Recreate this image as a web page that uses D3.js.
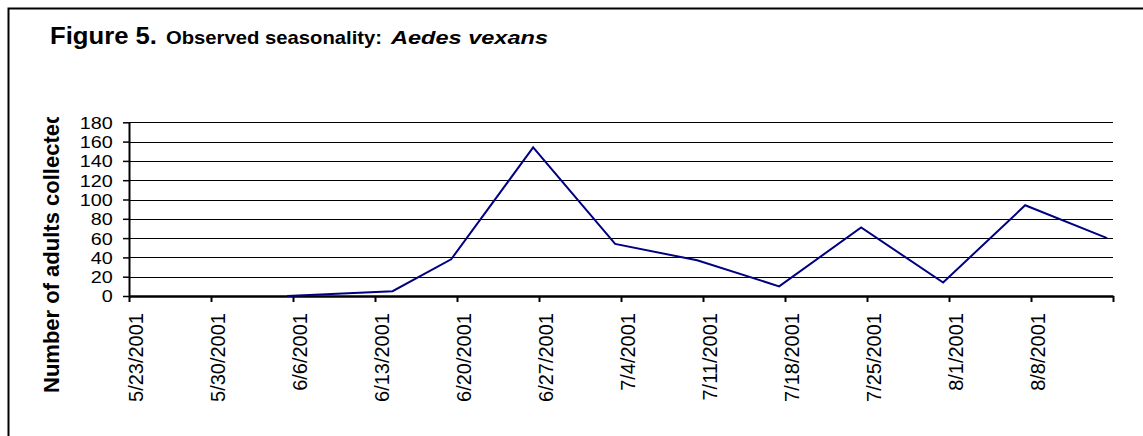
<!DOCTYPE html>
<html>
<head>
<meta charset="utf-8">
<script src="https://cdn.jsdelivr.net/npm/d3@7/dist/d3.min.js"></script>
<style>
  html, body { margin: 0; padding: 0; background: #fff; }
  svg { display: block; }
  text { font-family: "Liberation Sans", Arial, sans-serif; fill: #000; }
</style>
</head>
<body>
<div id="chart"></div>
<script>
'use strict';

// weekly axis marks (last tick has no label)
const tickLabels = ['5/23/2001', '5/30/2001', '6/6/2001', '6/13/2001', '6/20/2001', '6/27/2001',
  '7/4/2001', '7/11/2001', '7/18/2001', '7/25/2001', '8/1/2001', '8/8/2001', '8/15/2001'];
const sampleDates = ['6/6/2001', '6/15/2001', '6/20/2001', '6/27/2001', '7/4/2001', '7/11/2001',
  '7/18/2001', '7/25/2001', '8/1/2001', '8/8/2001', '8/15/2001'];
const adultCounts = [0, 5, 38, 154, 54, 37, 10, 71, 14, 94, 60];
const yTicks = [0, 20, 40, 60, 80, 100, 120, 140, 160, 180];

const width = 1143;
const height = 436;
const parse = d3.timeParse('%m/%d/%Y');
const fmt = d3.timeFormat('%-m/%-d/%Y');

const svg = d3.select('#chart').append('svg')
  .attr('width', width)
  .attr('height', height);

svg.append('rect')
  .attr('width', width)
  .attr('height', height)
  .attr('fill', '#fff');

// outer frame, runs off the right and bottom edge
svg.append('rect')
  .attr('x', 8.5)
  .attr('y', 8.5)
  .attr('width', width + 20)
  .attr('height', height + 20)
  .attr('fill', 'none')
  .attr('stroke', '#000')
  .attr('stroke-width', 2);

// title pieces, the original text is a bit stretched so fix each width
const titleParts = [
  { text: 'Figure 5.', x: 50, len: 107, size: 23, italic: false },
  { text: 'Observed seasonality:', x: 166, len: 216, size: 18.5, italic: false },
  { text: 'Aedes vexans', x: 391, len: 157, size: 18.5, italic: true }
];
svg.append('g')
  .selectAll('text')
  .data(titleParts)
  .join('text')
  .attr('x', d => d.x)
  .attr('y', 44)
  .attr('textLength', d => d.len)
  .attr('lengthAdjust', 'spacingAndGlyphs')
  .style('font-size', d => d.size + 'px')
  .style('font-weight', 'bold')
  .style('font-style', d => d.italic ? 'italic' : 'normal')
  .text(d => d.text);

const tickDates = tickLabels.map(parse);
const x = d3.scaleTime()
  .domain(d3.extent(tickDates))
  .range([129, 1113]);

const y = d3.scaleLinear()
  .domain([0, 180])
  .range([296, 122.3]);

// gridlines
svg.append('g')
  .selectAll('line')
  .data(yTicks.filter(d => d > 0))
  .join('line')
  .attr('x1', x.range()[0])
  .attr('x2', x.range()[1])
  .attr('y1', d => Math.round(y(d)) + 0.5)
  .attr('y2', d => Math.round(y(d)) + 0.5)
  .attr('stroke', '#000')
  .attr('stroke-width', 1);

// y axis
const yAxis = svg.append('g')
  .attr('transform', 'translate(' + x.range()[0] + ',0)')
  .call(d3.axisLeft(y).tickValues(yTicks).tickSize(6).tickSizeOuter(0));
yAxis.select('.domain').attr('stroke', '#000').attr('stroke-width', 2);
yAxis.selectAll('.tick line').attr('stroke', '#000').attr('stroke-width', 1.5);
yAxis.selectAll('.tick text')
  .attr('x', -13.5)
  .attr('dy', '0.36em')
  .attr('transform', 'scale(1.2,1)')
  .style('font-size', '16.5px')
  .style('font-family', '"Liberation Sans", Arial, sans-serif');

// x axis
const xAxis = svg.append('g')
  .attr('transform', 'translate(0,' + y(0) + ')')
  .call(d3.axisBottom(x)
    .tickValues(tickDates)
    .tickSize(6)
    .tickSizeOuter(0)
    .tickFormat((d, i) => i < tickDates.length - 1 ? fmt(d) : ''));
xAxis.select('.domain').attr('stroke', '#000').attr('stroke-width', 2.5);
xAxis.selectAll('.tick line').attr('stroke', '#000').attr('stroke-width', 2);
xAxis.selectAll('.tick text')
  .attr('transform', 'rotate(-90) translate(0,5)')
  .attr('text-anchor', 'end')
  .attr('x', -17)
  .attr('y', 0)
  .attr('dy', '0.42em')
  .attr('dx', 0)
  .style('font-size', '20px')
  .style('font-family', '"Liberation Sans", Arial, sans-serif');

// y axis title, clipped at the top like the original
svg.append('clipPath')
  .attr('id', 'ytitle-clip')
  .append('rect')
  .attr('x', 0)
  .attr('y', 117)
  .attr('width', 100)
  .attr('height', 300);

svg.append('g')
  .attr('clip-path', 'url(#ytitle-clip)')
  .append('text')
  .attr('transform', 'translate(59,393) rotate(-90)')
  .style('font-size', '22px')
  .style('font-weight', 'bold')
  .text('Number of adults collected');

// series: Excel draws each dated point half a day left of its tick
const half = (x(d3.timeDay.offset(tickDates[0], 1)) - x(tickDates[0])) / 2;
const points = sampleDates.map((d, i) => ({ date: parse(d), value: adultCounts[i] }));

const line = d3.line()
  .x(d => x(d.date) - half)
  .y(d => y(d.value));

svg.append('path')
  .datum(points)
  .attr('d', line)
  .attr('fill', 'none')
  .attr('stroke', '#000080')
  .attr('stroke-width', 2)
  .attr('stroke-linejoin', 'miter');
</script>
</body>
</html>
